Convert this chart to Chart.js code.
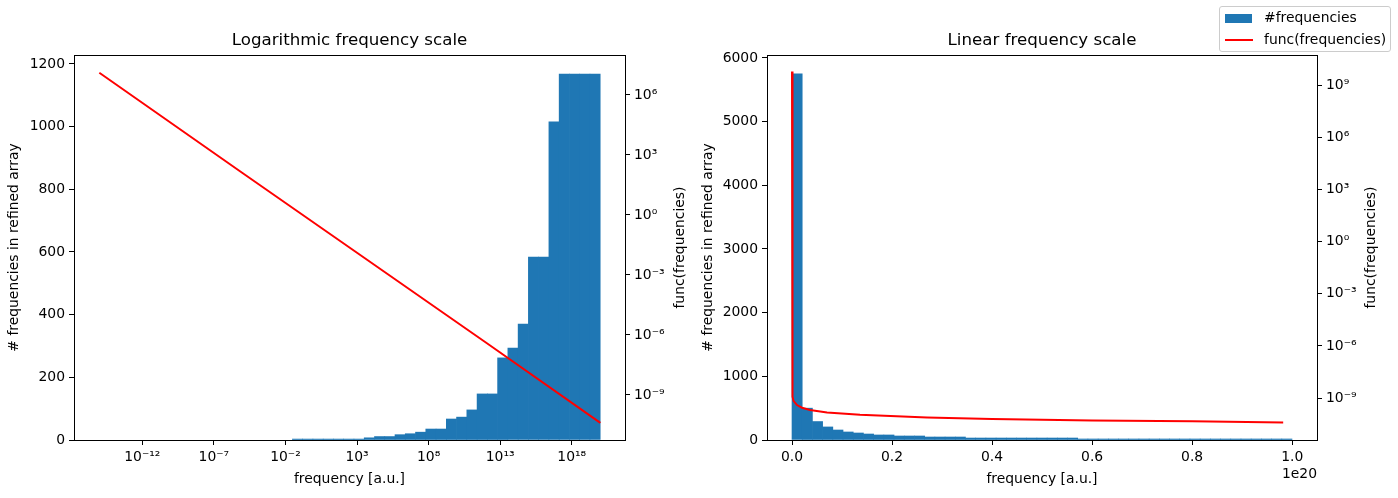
<!DOCTYPE html>
<html>
<head>
<meta charset="utf-8">
<script src="https://cdn.jsdelivr.net/npm/chart.js@4.4.1/dist/chart.umd.min.js"></script>
<style>
  body { margin: 0; background: #fff; overflow: hidden; }
  #wrap { position: relative; width: 1398px; height: 498px; font-family: "DejaVu Sans", sans-serif; }
  canvas { position: absolute; top: 0; }
  #logChart { left: 0; }
  #linChart { left: 699px; }
  #legend {
    position: absolute; left: 1219px; top: 6px; width: 170px; height: 44px;
    border: 1px solid #cccccc; border-radius: 3px; background: rgba(255, 255, 255, 0.8);
    font-size: 13.9px; color: #000;
  }
  #legend span { position: absolute; white-space: nowrap; line-height: 16px; }
  .patch { left: 5px; top: 7px; width: 27px; height: 9px; background: #1f77b4; }
  .redline { left: 5px; top: 32px; width: 28px; height: 2px; background: #ff0000; }
</style>
</head>
<body>
<div id="wrap">
  <canvas id="logChart" width="700" height="498"></canvas>
  <canvas id="linChart" width="699" height="498"></canvas>
  <div id="legend">
    <span class="patch"></span><span style="left:44px; top:2px;">#frequencies</span>
    <span class="redline"></span><span style="left:44px; top:24px;">func(frequencies)</span>
  </div>
</div>
<script>
// ---- left panel: logarithmic frequency bins (only the non-empty ones, edges as log10)
const logBinEdgeExp = [-1.513, -0.796, -0.080, 0.637, 1.354, 2.070, 2.787, 3.504, 4.221, 4.937,
  5.654, 6.371, 7.087, 7.804, 8.521, 9.238, 9.954, 10.671, 11.388, 12.104,
  12.821, 13.538, 14.255, 14.971, 15.688, 16.405, 17.121, 17.838, 18.555, 19.271, 19.988];
const logBinCounts = [3, 3, 3, 3, 3, 3, 3, 7, 11, 11, 17, 20, 25, 35, 35,
  67, 73, 96, 147, 147, 262, 293, 370, 584, 584, 1015, 1168, 1168, 1168, 1168];
const logFuncFreq = [1e-15, 1e-5, 1e3, 1e12, 1e20];
const logFuncValues = [1.3e7, 1.26e2, 1.3e-2, 4.2e-7, 4e-11];

// ---- right panel: linear frequency bins (edges in units of 1e20)
const linBinEdges = [0, 0.0204, 0.0408, 0.0612, 0.0816, 0.102, 0.1224, 0.1428, 0.1632, 0.1836,
  0.204, 0.2244, 0.2448, 0.2652, 0.2856, 0.306, 0.3264, 0.3468, 0.3672, 0.3876,
  0.408, 0.4284, 0.4488, 0.4692, 0.4896, 0.51, 0.5304, 0.5508, 0.5712, 0.5916,
  0.612, 0.6324, 0.6528, 0.6732, 0.6936, 0.714, 0.7344, 0.7548, 0.7752, 0.7956,
  0.816, 0.8364, 0.8568, 0.8772, 0.8976, 0.918, 0.9384, 0.9588, 0.9792, 0.9996];
const linBinCounts = [5750, 500, 290, 205, 157, 126, 110, 94, 79, 79,
  63, 63, 63, 47, 47, 47, 47, 31, 31, 31,
  31, 31, 31, 31, 31, 31, 31, 31, 16, 16,
  16, 16, 16, 16, 16, 16, 16, 16, 16, 16,
  16, 16, 16, 16, 16, 16, 16, 16, 16];
const linFuncFreq = [0, 1e17, 3e17, 1e18, 2e18, 3.6e18, 7e18, 1.36e19, 2.7e19, 4e19, 6e19, 8e19, 9.82e19];
const linFuncValues = [6e9, 1.2e-9, 7e-10, 4e-10, 2.8e-10, 2.1e-10, 1.5e-10, 1.1e-10, 7.7e-11, 6.3e-11, 5.2e-11, 4.6e-11, 4e-11];

// ---- ticks
const logXTicks = [1e-12, 1e-7, 1e-2, 1e3, 1e8, 1e13, 1e18];
const logXTickLabels = ["10⁻¹²", "10⁻⁷", "10⁻²", "10³", "10⁸", "10¹³", "10¹⁸"];
const leftCountTicks = [0, 200, 400, 600, 800, 1000, 1200];
const leftFuncTicks = [1e-9, 1e-6, 1e-3, 1, 1e3, 1e6];
const leftFuncTickLabels = ["10⁻⁹", "10⁻⁶", "10⁻³", "10⁰", "10³", "10⁶"];
const linXTicks = [0, 0.2e20, 0.4e20, 0.6e20, 0.8e20, 1e20];
const linXTickLabels = ["0.0", "0.2", "0.4", "0.6", "0.8", "1.0"];
const rightCountTicks = [0, 1000, 2000, 3000, 4000, 5000, 6000];
const rightFuncTicks = [1e-9, 1e-6, 1e-3, 1, 1e3, 1e6, 1e9];
const rightFuncTickLabels = ["10⁻⁹", "10⁻⁶", "10⁻³", "10⁰", "10³", "10⁶", "10⁹"];

const FONT = "DejaVu Sans";
Chart.defaults.font.family = FONT;
Chart.defaults.font.size = 13.9;
Chart.defaults.color = "#000";

// box round the plot + right-hand axis label (matplotlib reads it bottom-to-top) + offset text
const framePlugin = {
  id: "frame",
  afterDraw(chart, args, opts) {
    const { ctx, chartArea: a } = chart;
    ctx.save();
    ctx.strokeStyle = "#000";
    ctx.lineWidth = 1;
    ctx.strokeRect(Math.round(a.left) + 0.5, Math.round(a.top) + 0.5,
      Math.round(a.right - a.left), Math.round(a.bottom - a.top));
    ctx.fillStyle = "#000";
    ctx.font = "13.9px '" + FONT + "'";
    if (opts.rightTitle) {
      ctx.save();
      ctx.translate(a.right + opts.rightTitleGap, (a.top + a.bottom) / 2);
      ctx.rotate(-Math.PI / 2);
      ctx.textAlign = "center";
      ctx.textBaseline = "middle";
      ctx.fillText(opts.rightTitle, 0, 0);
      ctx.restore();
    }
    if (opts.offsetText) {
      ctx.textAlign = "right";
      ctx.textBaseline = "middle";
      ctx.fillText(opts.offsetText, a.right, 474);
    }
    ctx.restore();
  }
};

function axis(position, type, min, max, tickValues, tickLabels, size, extra) {
  const horizontal = position === "bottom";
  return Object.assign({
    type: type,
    position: position,
    min: min,
    max: max,
    bounds: "data",
    offset: false,
    grid: { offset: false, drawOnChartArea: false, drawTicks: true, tickLength: 5, tickWidth: 1, tickColor: "#000" },
    border: { display: true, color: "#000", width: 1 },
    ticks: {
      autoSkip: false, maxRotation: 0, minRotation: 0, padding: 4, color: "#000",
      callback: (value, i) => tickLabels[i]
    },
    afterBuildTicks: (scale) => { scale.ticks = tickValues.map((v) => ({ value: v })); },
    afterFit: (scale) => {
      if (horizontal) scale.height = size; else scale.width = size;
    }
  }, extra || {});
}

function makeChart(id, cfg) {
  return new Chart(document.getElementById(id), {
    type: "bar",
    data: {
      datasets: [
        {
          label: "#frequencies",
          data: cfg.bars,
          backgroundColor: "#1f77b4",
          borderWidth: 0,
          barPercentage: 1,
          categoryPercentage: 1,
          grouped: false,
          yAxisID: "y",
          order: 2
        },
        {
          type: "line",
          label: "func(frequencies)",
          data: cfg.line,
          borderColor: "#ff0000",
          borderWidth: 2,
          pointRadius: 0,
          tension: 0,
          fill: false,
          yAxisID: "y1",
          order: 1
        }
      ]
    },
    options: {
      responsive: false,
      animation: false,
      events: [],
      layout: { padding: 0 },
      scales: cfg.scales,
      plugins: {
        legend: { display: false },
        tooltip: { enabled: false },
        title: {
          display: true,
          text: cfg.title,
          fullSize: false,
          font: { size: 16.67, weight: "normal" },
          color: "#000",
          padding: { top: 31, bottom: 4 }
        },
        frame: cfg.frame
      }
    },
    plugins: [framePlugin]
  });
}

// left: log x
const logBars = logBinCounts.map((c, i) => ({
  x: Math.pow(10, (logBinEdgeExp[i] + logBinEdgeExp[i + 1]) / 2),
  y: c
}));
const logLine = logFuncFreq.map((f, i) => ({ x: f, y: logFuncValues[i] }));

makeChart("logChart", {
  title: "Logarithmic frequency scale",
  bars: logBars,
  line: logLine,
  frame: { rightTitle: "func(frequencies)", rightTitleGap: 55 },
  scales: {
    x: axis("bottom", "logarithmic", 1.7e-17, 5.25e21, logXTicks, logXTickLabels, 58,
      { title: { display: true, text: "frequency [a.u.]", padding: { top: 0, bottom: 10 } } }),
    y: axis("left", "linear", 0, 1228.5, leftCountTicks, leftCountTicks.map(String), 74,
      { title: { display: true, text: "# frequencies in refined array", padding: { top: 6, bottom: 0 } } }),
    y1: axis("right", "logarithmic", 5.6e-12, 1e8, leftFuncTicks, leftFuncTickLabels, 75)
  }
});

// right: linear x
const linBars = linBinCounts.map((c, i) => ({
  x: (linBinEdges[i] + linBinEdges[i + 1]) / 2 * 1e20,
  y: c
}));
const linLine = linFuncFreq.map((f, i) => ({ x: f, y: linFuncValues[i] }));

makeChart("linChart", {
  title: "Linear frequency scale",
  bars: linBars,
  line: linLine,
  frame: { rightTitle: "func(frequencies)", rightTitleGap: 54, offsetText: "1e20" },
  scales: {
    x: axis("bottom", "linear", -0.05e20, 1.0496e20, linXTicks, linXTickLabels, 58,
      { title: { display: true, text: "frequency [a.u.]", padding: { top: 0, bottom: 10 } } }),
    y: axis("left", "linear", 0, 6047, rightCountTicks, rightCountTicks.map(String), 68,
      { title: { display: true, text: "# frequencies in refined array", padding: { top: 1, bottom: 0 } } }),
    y1: axis("right", "logarithmic", 3.9e-12, 5.37e10, rightFuncTicks, rightFuncTickLabels, 81)
  }
});
</script>
</body>
</html>
